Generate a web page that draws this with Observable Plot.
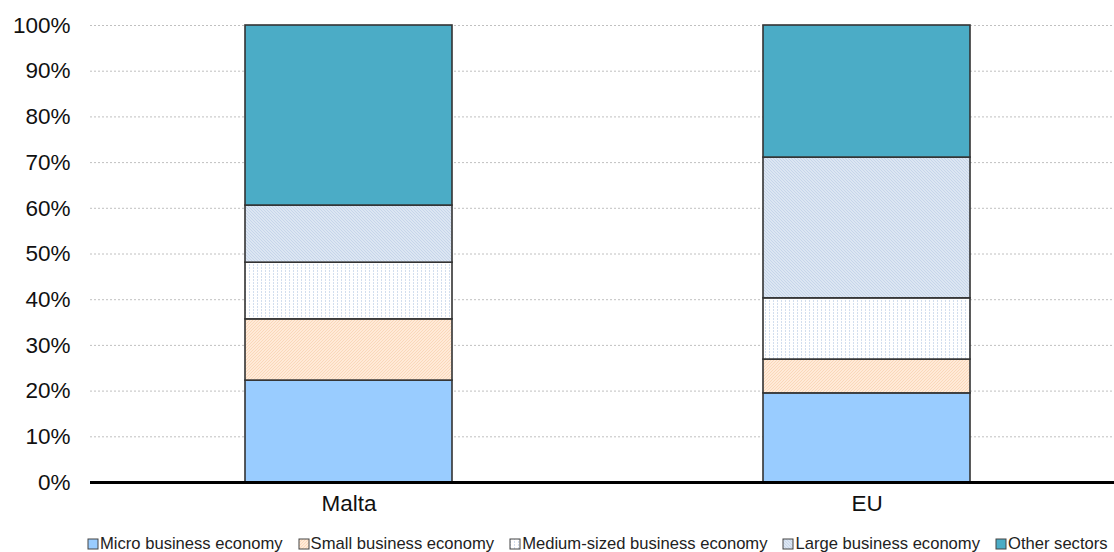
<!DOCTYPE html>
<html>
<head>
<meta charset="utf-8">
<script src="https://cdn.jsdelivr.net/npm/d3@7"></script>
<script src="https://cdn.jsdelivr.net/npm/@observablehq/plot@0.6"></script>
<style>
  html, body { margin: 0; padding: 0; background: #fff; }
  body { width: 1114px; height: 552px; overflow: hidden; font-family: "Liberation Sans", Arial, sans-serif; }
  #legend { display: flex; justify-content: flex-start; align-items: center; font-size: 16.6px; color: #222; margin-top: 10px; padding-left: 87px; white-space: nowrap; }
  #legend .item { display: flex; align-items: center; margin-right: 15px; }
  #legend svg { margin-right: 1px; }
</style>
</head>
<body>
<div id="chart"></div>
<div id="legend"></div>
<script>
const categories = ["Malta", "EU"];
const seriesNames = ["Micro business economy", "Small business economy", "Medium-sized business economy", "Large business economy", "Other sectors"];
const micro  = [22.3, 19.5];
const small  = [13.4, 7.4];
const medium = [12.4, 13.4];
const large  = [12.5, 30.8];
const other  = [39.4, 28.9];
const yTicks = [0, 10, 20, 30, 40, 50, 60, 70, 80, 90, 100];
const patternIds = ["pMicro", "pSmall", "pMedium", "pLarge", "pOther"];

const seriesValues = [micro, small, medium, large, other];
const data = [];
seriesNames.forEach((s, i) => categories.forEach((c, j) => data.push({category: c, series: s, value: seriesValues[i][j]})));

const plot = Plot.plot({
  width: 1114,
  height: 524,
  marginTop: 25,
  marginBottom: 42,
  marginLeft: 90,
  marginRight: 0,
  style: { fontFamily: "Liberation Sans, Arial, sans-serif", fontSize: "22.5px", color: "#111", background: "#fff" },
  x: { domain: categories, paddingInner: 0.6, paddingOuter: 0.288, align: 0.52, label: null, tickSize: 0, tickPadding: 13 },
  y: { domain: [0, 100], ticks: yTicks, tickFormat: d => d + "%", label: null, tickSize: 0, tickPadding: 20 },
  color: { type: "ordinal", domain: seriesNames, range: patternIds.map(id => `url(#${id})`) },
  marks: [
    Plot.gridY(yTicks.filter(d => d > 0), { stroke: "#b0b0b0", strokeOpacity: 1, strokeWidth: 0.8, strokeDasharray: "2,2" }),
    Plot.barY(data, { x: "category", y: "value", z: "series", fill: "series", order: seriesNames, stroke: "#333", strokeWidth: 1.6 }),
    Plot.ruleY([0], { stroke: "#000", strokeWidth: 3 })
  ]
});

// Pattern definitions
const svg = d3.select(plot);
const defs = svg.insert("defs", ":first-child");
function solid(id, color) {
  const p = defs.append("pattern").attr("id", id).attr("patternUnits", "userSpaceOnUse").attr("width", 4).attr("height", 4);
  p.append("rect").attr("width", 4).attr("height", 4).attr("fill", color);
}
function hatch(id, bg, line, dir) {
  const p = defs.append("pattern").attr("id", id).attr("patternUnits", "userSpaceOnUse").attr("width", 3).attr("height", 3);
  p.append("rect").attr("width", 3).attr("height", 3).attr("fill", bg);
  if (dir > 0) {
    p.append("path").attr("d", "M0,3 L3,0 M-1,1 L1,-1 M2,4 L4,2").attr("stroke", line).attr("stroke-width", 0.7);
  } else {
    p.append("path").attr("d", "M0,0 L3,3 M-1,2 L1,4 M2,-1 L4,1").attr("stroke", line).attr("stroke-width", 0.7);
  }
}
solid("pMicro", "#99CCFF");
hatch("pSmall", "#FFEAD8", "#F8D0AE", 1);
(function () {
  const p = defs.append("pattern").attr("id", "pMedium").attr("patternUnits", "userSpaceOnUse").attr("width", 4).attr("height", 3);
  p.append("rect").attr("width", 4).attr("height", 3).attr("fill", "#FFFFFF");
  p.append("rect").attr("x", 1).attr("y", 0).attr("width", 1).attr("height", 2).attr("fill", "#D2DEEE");
})();
hatch("pLarge", "#DCE6F2", "#BDCFE6", -1);
solid("pOther", "#4BACC6");

document.getElementById("chart").appendChild(plot);

// Legend
const legend = d3.select("#legend");
seriesNames.forEach((s, i) => {
  const item = legend.append("div").attr("class", "item");
  const sw = item.append("svg").attr("width", 12).attr("height", 12);
  sw.append("rect").attr("x", 1).attr("y", 1).attr("width", 10).attr("height", 10)
    .attr("fill", `url(#${patternIds[i]})`).attr("stroke", "#444").attr("stroke-width", 1);
  item.append("span").text(s);
});
</script>
</body>
</html>
